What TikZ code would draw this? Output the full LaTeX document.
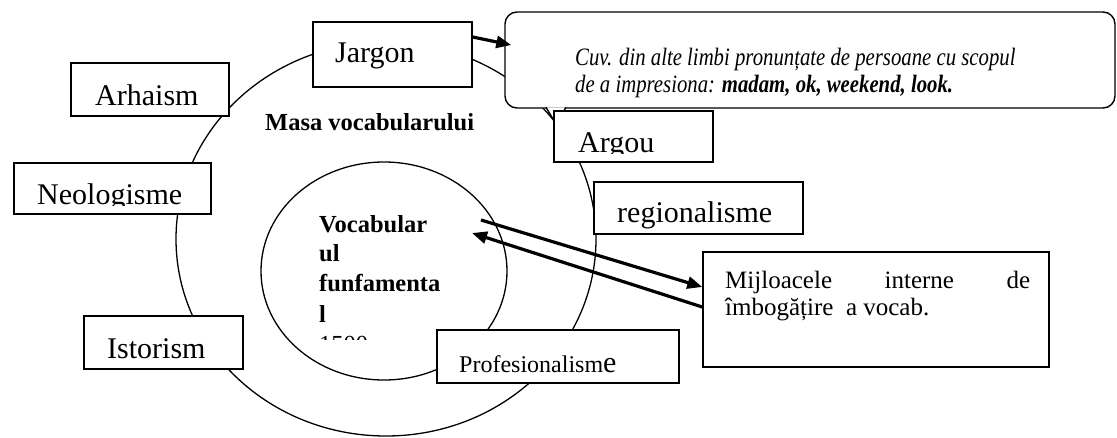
\documentclass[tikz,border=0pt]{standalone}
\usepackage{fontspec}
\usepackage{graphicx}
\setmainfont{Liberation Serif}
\usetikzlibrary{arrows.meta}

\tikzset{
  wordbox/.style={draw, fill=white, line width=1.4pt, inner sep=0pt},
  boxtext/.style={anchor=base west, inner sep=0pt, font=\fontsize{30}{34}\selectfont},
  boldtext/.style={anchor=base west, inner sep=0pt, font=\fontsize{24.5}{30}\selectfont\bfseries},
  notetext/.style={anchor=base west, inner sep=0pt, font=\fontsize{25}{27}\selectfont\itshape},
  midtext/.style={anchor=base west, inner sep=0pt, font=\fontsize{25}{27}\selectfont},
  thickarrow/.style={line width=3.2pt, -{Triangle[length=15pt,width=12pt]}},
}

\begin{document}
\begin{tikzpicture}[x=1pt,y=-1pt]
\useasboundingbox (0,0) rectangle (1117,437);

	% the two rings
	\draw[line width=1.3pt] (386,239) ellipse [x radius=210pt, y radius=197pt];
	\draw[line width=1.3pt] (384,271) ellipse [x radius=123pt, y radius=109pt];

	\node[boldtext] (masa) at (265,130) {Masa vocabularului};

	\begin{scope}
		\clip (300,200) rectangle (470,339);
		\node[boldtext] (fundA) at (319,232) {Vocabular};
		\node[boldtext] (fundB) at (319,261) {ul};
		\node[boldtext] (fundC) at (319,291) {funfamenta};
		\node[boldtext] (fundD) at (319,322) {l};
		\node[boxtext, font=\fontsize{24.5}{30}\selectfont] (fundE) at (319,352) {1500};
	\end{scope}

	% callout
	\node[wordbox, rounded corners=12pt, minimum width=610pt, minimum height=96pt] (cuv) at (810,60) {};
	\filldraw[line width=1.4pt, fill=white] (546,107.3) -- (556,124) -- (566,107.3);
	\node[notetext] (cuvA) at (575,65) {\scalebox{0.83}[1]{Cuv. din alte limbi pronunțate de persoane cu scopul}};
	\node[notetext] (cuvB) at (575,92) {\scalebox{0.83}[1]{de a impresiona: \textbf{madam, ok, weekend, look.}}};

	% word boxes
	\node[wordbox, minimum width=159pt, minimum height=65pt] (jargon) at (392.5,54.5) {};
	\node[wordbox, minimum width=158pt, minimum height=53pt] (arhaism) at (150,89.5) {};
	\node[wordbox, minimum width=197pt, minimum height=51pt] (neolog) at (112.5,188.5) {};
	\node[wordbox, minimum width=159pt, minimum height=53pt] (istorism) at (163.5,342.5) {};
	\node[wordbox, minimum width=159pt, minimum height=51pt] (argou) at (633.5,136.5) {};
	\node[wordbox, minimum width=209pt, minimum height=52pt] (regional) at (698.5,208) {};
	\node[wordbox, minimum width=242pt, minimum height=53pt] (profes) at (558,356.5) {};
	\node[wordbox, minimum width=346pt, minimum height=115pt] (mijloace) at (876,309.5) {};

	\node[boxtext] (jargonT) at (335,62) {Jargon};
	\node[boxtext] (arhaismT) at (95,105) {Arhaism};
	\begin{scope}
		\clip (14,163) rectangle (211,205.5);
		\node[boxtext] (neologT) at (37,204) {Neologisme};
	\end{scope}
	\node[boxtext] (istorismT) at (107,358) {Istorism};
	\begin{scope}
		\clip (554,111) rectangle (713,153.5);
		\node[boxtext] (argouT) at (578,152) {Argou};
	\end{scope}
	\node[boxtext] (regionalT) at (617,222) {regionalisme};
	\node[boxtext, font=\fontsize{24}{30}\selectfont] (profesT) at (459,372) {Profesionalism{\fontsize{30}{34}\selectfont e}};
	\node[midtext] (mijA) at (725,288) {\makebox[305pt][s]{Mijloacele interne de}};
	\node[midtext] (mijB) at (725,315) {îmbogățire \ a vocab.};

	% arrows
	\coordinate (fundOut) at (481,220);
	\coordinate (fundIn) at (472,233);
	\draw[thickarrow] ([yshift=17.5pt]jargon.east) -- ([xshift=7pt,yshift=15pt]cuv.west);
	\draw[thickarrow] (fundOut) -- ([yshift=22.5pt]mijloace.west);
	\draw[thickarrow] ([yshift=2.5pt]mijloace.west) -- (fundIn);

\end{tikzpicture}
\end{document}
